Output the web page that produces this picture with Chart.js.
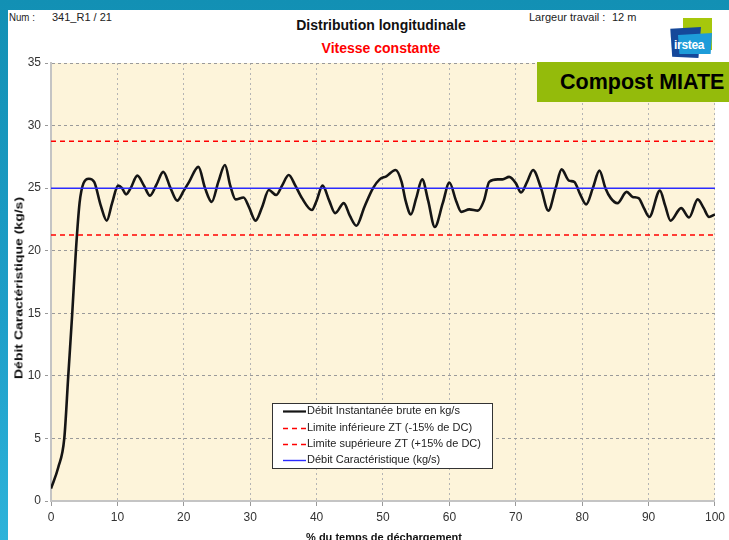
<!DOCTYPE html>
<html>
<head>
<meta charset="utf-8">
<script src="https://cdn.jsdelivr.net/npm/chart.js@4/dist/chart.umd.min.js"></script>
<style>
  html, body { margin:0; padding:0; }
  body { width:729px; height:540px; overflow:hidden; position:relative;
         background: linear-gradient(to bottom, #1290b4 0%, #1e9fc9 60%, #2db3da 100%);
         font-family: "Liberation Sans", Arial, sans-serif; }
  #panel { position:absolute; left:8px; top:10px; width:721px; height:530px; background:#ffffff; }
  #wrap { position:absolute; left:0; top:0; width:729px; height:540px; }
  .t { position:absolute; white-space:nowrap; color:#222; }
  #logo-g { position:absolute; left:683px; top:18px; width:29px; height:32px; background:#a6c70c; }
  #logo-b { position:absolute; left:669px; top:27px; width:32px; height:31px; background:#15489a;
            clip-path: polygon(4% 6%, 100% 0%, 92% 100%, 10% 96%); }
  #logo-l { position:absolute; left:678px; top:33px; width:34px; height:21px; background:#1d9cd9;
            clip-path: polygon(0% 10%, 100% 0%, 96% 100%, 4% 100%); }
  #logo-t { position:absolute; left:674px; top:38px; color:#fff; font:bold 12px "Liberation Sans Narrow","Liberation Sans",Arial,sans-serif; letter-spacing:-0.3px; }
  #compost { position:absolute; left:537px; top:62px; width:192px; height:40px; background:#94bb0b; z-index:5; }
  #compost span { position:absolute; left:23px; top:8px; font:bold 21.5px "Liberation Sans", Arial, sans-serif; color:#000; }
</style>
</head>
<body>
<div id="panel"></div>
<div class="t" style="left:9px; top:11px; font-size:11px; transform-origin:left top; transform:scaleX(0.88);">Num :</div>
<div class="t" style="left:52px; top:11px; font-size:11px;">341_R1 / 21</div>
<div class="t" style="left:529px; top:11px; font-size:11px;">Largeur travail :</div>
<div class="t" style="left:612px; top:11px; font-size:11px;">12 m</div>
<div class="t" style="left:381px; top:17px; transform:translateX(-50%); font-weight:bold; font-size:14px; color:#111;">Distribution longitudinale</div>
<div class="t" style="left:381px; top:40px; transform:translateX(-50%); font-weight:bold; font-size:14px; color:#ff0000;">Vitesse constante</div>
<div id="logo-g"></div><div id="logo-b"></div><div id="logo-l"></div><div id="logo-t">irstea</div>
<div id="wrap"><canvas id="c" width="729" height="540"></canvas></div>
<div id="compost"><span>Compost MIATE</span></div>
<div class="t" style="left:18px; top:288px; transform:translate(-50%,-50%) rotate(-90deg) scaleY(0.82); font-weight:bold; font-size:14px; color:#111; z-index:4;">Débit Caractéristique (kg/s)</div>
<div class="t" style="left:384px; top:537px; transform:translate(-50%,-50%); font-weight:bold; font-size:11px; color:#111;">% du temps de déchargement</div>
<script>
// ---- data ----
const timePct = [0,1.1,2.0,2.6,3.2,3.75,4.3,4.9,5.7,6.5,7.5,8.4,9.2,10.1,10.7,11.3,12.0,13.0,14.0,14.9,15.9,16.9,18.0,19.0,20.0,20.8,22.2,23.2,24.2,25.2,26.2,27.0,27.8,29.0,29.8,30.8,31.8,32.8,33.9,34.8,35.8,36.8,37.8,39.3,40.0,40.9,41.9,42.8,44.1,45.0,46.0,47.2,48.5,49.5,50.5,51.9,52.8,53.4,54.2,55.0,55.9,56.8,57.8,59.0,60.0,61.0,61.8,63.0,64.3,65.2,66.0,67.3,68.0,69.0,70.0,70.8,71.7,72.6,73.8,74.9,76.0,76.9,78.0,78.8,79.7,80.6,81.6,82.6,83.5,84.3,85.3,86.7,87.6,88.5,89.3,90.1,91.7,92.5,93.3,94.9,96.1,97.4,98.3,99.1,100];
const debitBrut = [1.0,2.7,5.0,10.0,15.0,20.0,23.8,25.4,25.75,25.5,23.6,22.4,23.8,25.2,25.0,24.5,25.0,26.0,25.2,24.4,25.3,26.3,25.0,24.0,24.8,25.5,26.7,25.0,23.9,25.5,26.85,25.2,24.1,24.25,23.5,22.4,23.5,24.85,24.45,25.2,26.05,25.2,24.2,23.25,24.0,25.2,24.0,23.0,23.8,22.8,22.0,23.5,25.0,25.7,25.95,26.45,25.5,24.0,22.9,24.2,25.7,24.0,21.9,23.8,25.45,24.0,23.1,23.3,23.2,24.0,25.5,25.7,25.7,25.9,25.4,24.65,25.5,26.45,25.0,23.2,25.0,26.5,25.6,25.5,24.5,23.7,25.0,26.4,25.0,24.2,23.8,24.7,24.3,24.2,23.4,22.7,24.8,23.6,22.4,23.4,22.65,24.1,23.4,22.7,22.9];
const limitX = [0, 100];
const limiteInf = [21.25, 21.25];
const limiteSup = [28.75, 28.75];
const debitCaract = [25, 25];
const xTicks = [0,10,20,30,40,50,60,70,80,90,100];
const yTicks = [0,5,10,15,20,25,30,35];
const seriesLabels = ["Débit Instantanée brute en kg/s","Limite inférieure ZT (-15% de DC)","Limite supérieure ZT (+15% de DC)","Débit Caractéristique (kg/s)"];

const pts = (xs, ys) => xs.map((x, i) => ({x: x, y: ys[i]}));

const bgPlugin = {
  id: 'plotBg',
  beforeDraw(chart) {
    const a = chart.chartArea, ctx = chart.ctx;
    ctx.save(); ctx.fillStyle = '#fdf4da'; ctx.fillRect(a.left, a.top, a.right - a.left, a.bottom - a.top); ctx.restore();
  }
};
const legendPlugin = {
  id: 'boxLegend',
  afterDraw(chart) {
    const ctx = chart.ctx;
    const bx = 272, by = 403, bw = 220, bh = 65;
    ctx.save();
    ctx.fillStyle = '#ffffff'; ctx.fillRect(bx, by, bw, bh);
    ctx.strokeStyle = '#333'; ctx.lineWidth = 1; ctx.strokeRect(bx + 0.5, by + 0.5, bw, bh);
    const rows = [411, 427.5, 444, 460];
    ctx.font = '11px "Liberation Sans", Arial, sans-serif';
    ctx.textBaseline = 'middle';
    chart.data.datasets.forEach((ds, i) => {
      const y = rows[i];
      ctx.beginPath();
      ctx.strokeStyle = ds.borderColor; ctx.lineWidth = i === 0 ? 2.2 : 1.4;
      ctx.setLineDash(ds.borderDash || []);
      ctx.moveTo(283, Math.round(y) + 0.5); ctx.lineTo(306, Math.round(y) + 0.5); ctx.stroke();
      ctx.setLineDash([]);
      ctx.fillStyle = '#222';
      ctx.fillText(ds.label, 307, y);
    });
    ctx.restore();
  }
};

new Chart(document.getElementById('c'), {
  type: 'line',
  data: {
    datasets: [
      { label: seriesLabels[0], data: pts(timePct, debitBrut), borderColor: '#151515', borderWidth: 2.6, pointRadius: 0, cubicInterpolationMode: 'monotone', order: 1 },
      { label: seriesLabels[1], data: pts(limitX, limiteInf), borderColor: '#ff0000', borderWidth: 1.5, borderDash: [5,4], pointRadius: 0, order: 0 },
      { label: seriesLabels[2], data: pts(limitX, limiteSup), borderColor: '#ff0000', borderWidth: 1.5, borderDash: [5,4], pointRadius: 0, order: 0 },
      { label: seriesLabels[3], data: pts(limitX, debitCaract), borderColor: '#2b2bff', borderWidth: 1.5, pointRadius: 0, order: 0 }
    ]
  },
  options: {
    responsive: false, animation: false,
    layout: { padding: { left: 0, right: 13, top: 63, bottom: 0 } },
    plugins: { legend: { display: false }, tooltip: { enabled: false }, title: { display: false } },
    scales: {
      x: {
        type: 'linear', min: 0, max: 100,
        afterBuildTicks: s => { s.ticks = xTicks.map(v => ({value: v})); },
        afterFit: s => { s.height = 39; },
        grid: { color: '#b4b4b4', tickLength: 5, tickColor: '#999', tickBorderDash: [] },
        border: { color: '#c4c4c4', width: 2, dash: [2,3] },
        ticks: { color: '#333', padding: 4, maxRotation: 0, font: { family: '"Liberation Sans", Arial, sans-serif', size: 12 } }
      },
      y: {
        type: 'linear', min: 0, max: 35,
        afterBuildTicks: s => { s.ticks = yTicks.map(v => ({value: v})); },
        afterFit: s => { s.width = 51; },
        grid: { color: '#9a9a9a', tickLength: 6, tickColor: '#999', tickBorderDash: [3,2] },
        border: { color: '#c4c4c4', width: 2, dash: [3,3] },
        ticks: { color: '#333', padding: 4, font: { family: '"Liberation Sans", Arial, sans-serif', size: 12 } }
      }
    }
  },
  plugins: [bgPlugin, legendPlugin]
});
</script>
</body>
</html>
